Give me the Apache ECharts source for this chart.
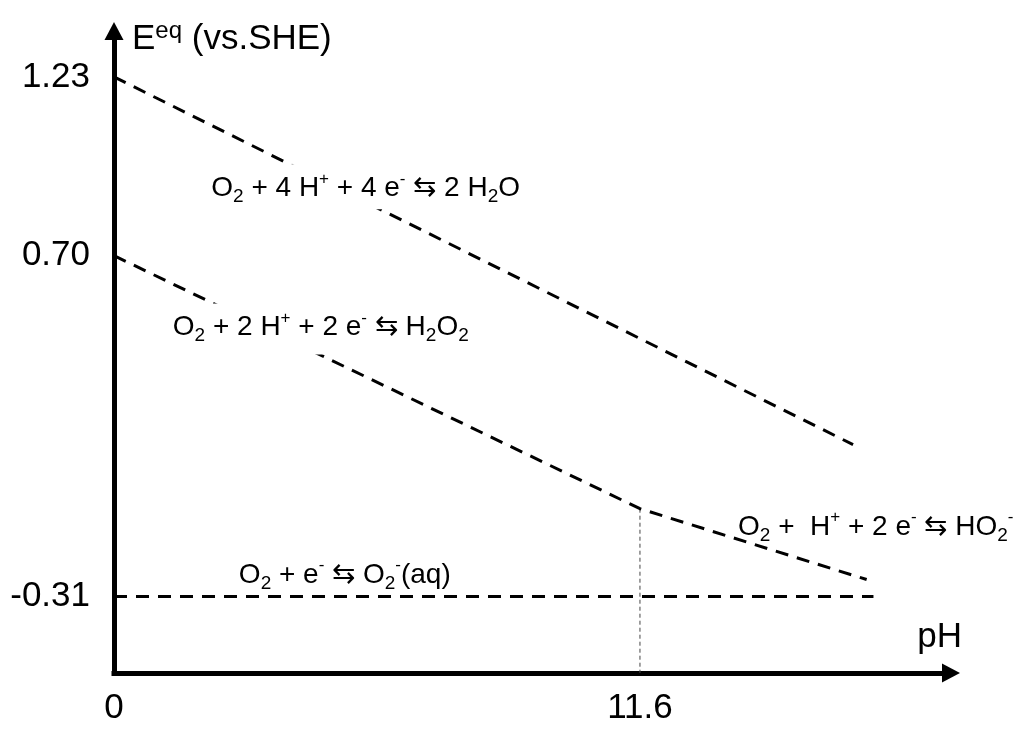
<!DOCTYPE html>
<html><head><meta charset="utf-8">
<script src="https://cdn.jsdelivr.net/npm/echarts@6/dist/echarts.min.js"></script>
<style>html,body{margin:0;padding:0;background:#fff}#c{width:1024px;height:733px}</style>
</head><body><div id="c"></div>
<script>
// ---- data ----
const xTickValues = [0, 11.6];
const xTickLabels = ['0', '11.6'];
const yTickValues = [1.23, 0.70, -0.31];
const yTickLabels = ['1.23', '0.70', '-0.31'];

const pH_4e = [0, 16.3];
const E_4e = [1.23, 0.14];
const pH_2e = [0, 11.6, 16.6];
const E_2e = [0.70, -0.05, -0.26];
const pH_1e = [0, 16.75];
const E_1e = [-0.31, -0.31];
const pKa = 11.6;

const reactionTexts = [
  '{n|O}{sub|2}{n| + 4 H}{sup|+}{n| + 4 e}{sup|-}{n| \u21C6 2 H}{sub|2}{n|O}',
  '{n|O}{sub|2}{n| + 2 H}{sup|+}{n| + 2 e}{sup|-}{n| \u21C6 H}{sub|2}{n|O}{sub|2}',
  '{n|O}{sub|2}{n| +  H}{sup|+}{n| + 2 e}{sup|-}{n| \u21C6 HO}{sub|2}{sup|-}',
  '{n|O}{sub|2}{n| + e}{sup|-}{n| \u21C6 O}{sub|2}{sup|-}{n|(aq)}'
];
const axisTitleY = '{n|E}{s|eq}{n| (vs.SHE)}';
const axisTitleX = 'pH';

// ---- layout ----
const X_MIN = 0, X_MAX = 18.46, Y_MIN = -0.537, Y_MAX = 1.366;
const labelAnchors = [[5.55, 0.904], [4.56, 0.483], [16.8, -0.104], [5.09, -0.247]];
const labelBoxes = [
  {backgroundColor: '#fff', padding: [6, 6, 3, 6]},
  {backgroundColor: '#fff', padding: [6, 6, 9, 6]},
  {},
  {}
];
const FONT = '"Liberation Sans", Arial, sans-serif';

const richLabel = {
  n: {fontSize: 28, lineHeight: 36, fontFamily: FONT, color: '#000'},
  sub: {fontSize: 19, lineHeight: 18, verticalAlign: 'bottom', fontFamily: FONT, color: '#000'},
  sup: {fontSize: 17, lineHeight: 24, verticalAlign: 'top', fontFamily: FONT, color: '#000'}
};

const dashed = {color: '#000', width: 3, type: [13, 9]};
function pairs(xs, ys) { return xs.map((x, i) => [x, ys[i]]); }

const chart = echarts.init(document.getElementById('c'), null, {renderer: 'canvas'});
chart.setOption({
  animation: false,
  backgroundColor: '#fff',
  grid: {left: 114, right: 73, top: 31, bottom: 60, containLabel: false},
  xAxis: {
    type: 'value', min: X_MIN, max: X_MAX,
    name: axisTitleX, nameLocation: 'end', nameGap: 11,
    nameTextStyle: {fontSize: 35, fontFamily: FONT, color: '#000', align: 'right', verticalAlign: 'bottom', lineHeight: 36, padding: [0, 0, 18, 0]},
    axisLine: {onZero: false, symbol: ['none', 'triangle'], symbolSize: [19, 18], lineStyle: {color: '#000', width: 5, cap: 'square'}},
    axisTick: {show: false},
    splitLine: {show: false},
    axisLabel: {
      customValues: xTickValues, fontSize: 35, fontFamily: FONT, color: '#000', margin: 18,
      formatter: v => xTickLabels[xTickValues.indexOf(v)] ?? ''
    }
  },
  yAxis: {
    type: 'value', min: Y_MIN, max: Y_MAX,
    name: axisTitleY, nameLocation: 'end', nameGap: -8,
    nameTextStyle: {
      align: 'left', verticalAlign: 'middle', padding: [0, 0, 0, 18],
      rich: {
        n: {fontSize: 35, lineHeight: 40, fontFamily: FONT, color: '#000'},
        s: {fontSize: 24, lineHeight: 28, verticalAlign: 'top', fontFamily: FONT, color: '#000'}
      }
    },
    axisLine: {onZero: false, symbol: ['none', 'triangle'], symbolSize: [19, 18], lineStyle: {color: '#000', width: 5, cap: 'square'}},
    axisTick: {show: false},
    splitLine: {show: false},
    axisLabel: {
      customValues: yTickValues, fontSize: 35, fontFamily: FONT, color: '#000', margin: 24,
      formatter: v => { const i = yTickValues.findIndex(t => Math.abs(t - v) < 1e-9); return i >= 0 ? yTickLabels[i] : ''; }
    }
  },
  series: [
    {type: 'line', z: 2, silent: true, symbol: 'none', data: pairs(pH_4e, E_4e), lineStyle: dashed},
    {type: 'line', z: 2, silent: true, symbol: 'none', data: pairs(pH_2e, E_2e), lineStyle: dashed},
    {type: 'line', z: 2, silent: true, symbol: 'none', data: pairs(pH_1e, E_1e), lineStyle: dashed},
    {type: 'line', z: 1, silent: true, symbol: 'none',
      data: [[pKa, E_2e[1]], [pKa, Y_MIN]],
      lineStyle: {color: '#444', width: 1, type: [4, 3]}},
    {type: 'scatter', z: 10, silent: true, symbolSize: 0,
      itemStyle: {opacity: 1},
      data: reactionTexts.map((t, i) => ({
        value: labelAnchors[i],
        label: Object.assign({formatter: t}, labelBoxes[i])
      })),
      label: {show: true, position: 'inside', align: 'center', verticalAlign: 'middle', rich: richLabel}
    }
  ]
});
</script>
</body></html>
